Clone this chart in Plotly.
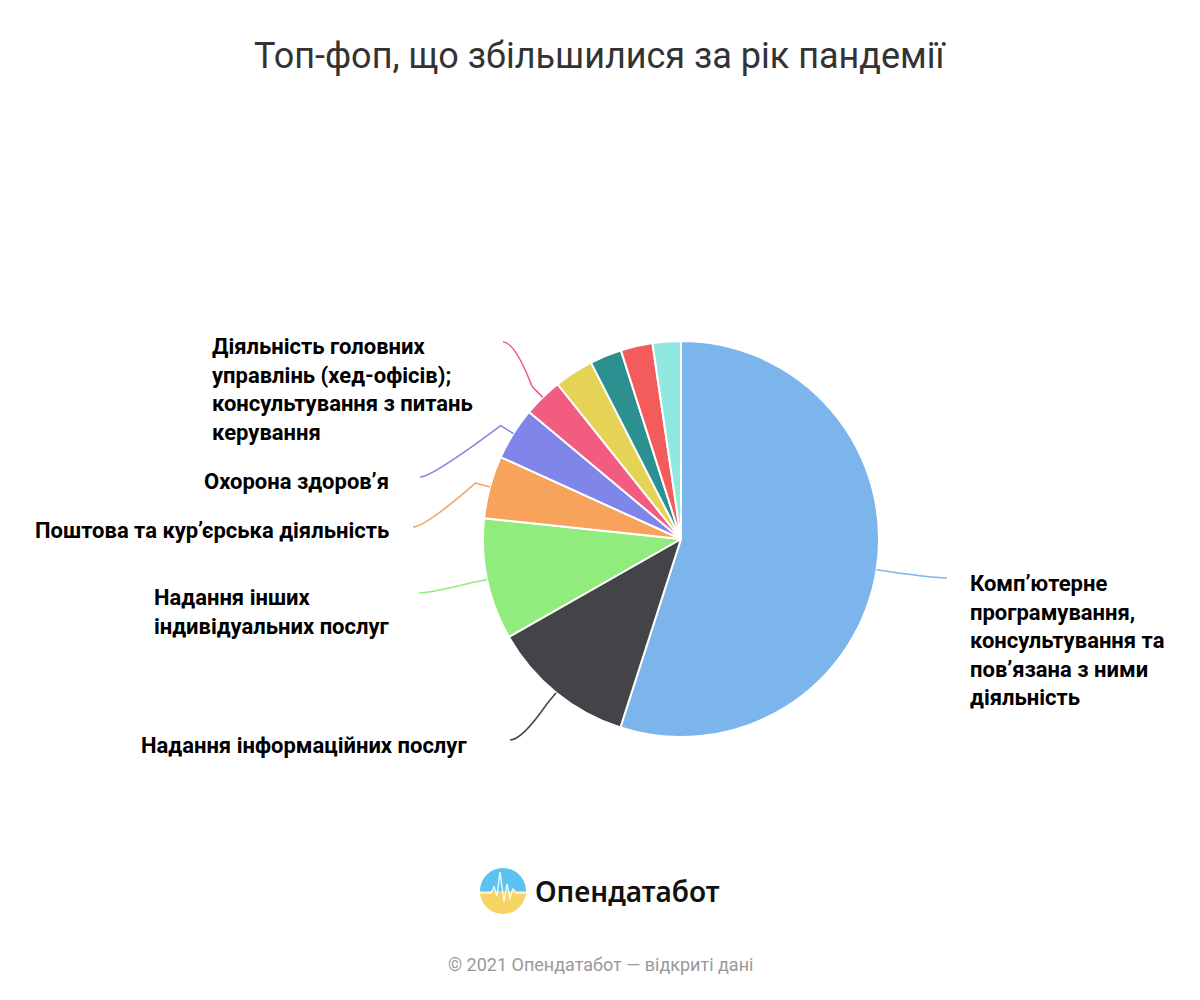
import numpy as np
import plotly.graph_objects as go

# ---------------- data ----------------
categories = [
    "Комп’ютерне програмування, консультування та пов’язана з ними діяльність",
    "Надання інформаційних послуг",
    "Надання інших індивідуальних послуг",
    "Поштова та кур’єрська діяльність",
    "Охорона здоров’я",
    "Діяльність головних управлінь (хед-офісів); консультування з питань керування",
    "Інша діяльність 7",
    "Інша діяльність 8",
    "Інша діяльність 9",
    "Інша діяльність 10",
]
values = [54.9, 11.8, 9.9, 5.1, 4.3, 3.2, 3.2, 2.6, 2.6, 2.3]
colors = ["#7cb5ec", "#434348", "#90ed7d", "#f7a35c", "#8085e9",
          "#f15c80", "#e4d354", "#2b908f", "#f45b5b", "#91e8e1"]
label_texts = [
    "Комп’ютерне<br>програмування,<br>консультування та<br>пов’язана з ними<br>діяльність",
    "Надання інформаційних послуг",
    "Надання інших<br>індивідуальних послуг",
    "Поштова та кур’єрська діяльність",
    "Охорона здоров’я",
    "Діяльність головних<br>управлінь (хед-офісів);<br>консультування з питань<br>керування",
]

# ---------------- layout constants (pixels) ----------------
W, H = 1200, 1000
CX, CY, R = 681, 539, 198
# label placement: (text x, text y, xanchor, connector end x, connector end y)
label_pos = [
    (968, 640, "left", 947, 578),
    (469, 745, "right", 510, 740),
    (152, 612, "left", 419, 593),
    (391, 530, "right", 413, 527),
    (391, 481, "right", 420, 477),
    (210, 389, "left", 503, 342),
]


def px(x):
    return x / W


def py(y):
    return 1 - y / H


fig = go.Figure()
fig.add_trace(go.Pie(
    labels=categories, values=values, sort=False, direction="clockwise",
    rotation=0, textinfo="none", hoverinfo="label+percent",
    marker=dict(colors=colors, line=dict(color="white", width=2)),
    domain=dict(x=[px(CX - R), px(CX + R)], y=[py(CY + R), py(CY - R)]),
    showlegend=False,
))

shapes = []
annotations = []

# connectors and labels computed from slice mid-angles
total = sum(values)
cum = np.cumsum([0] + values)
for i, txt in enumerate(label_texts):
    mid = (cum[i] + values[i] / 2) / total * 2 * np.pi
    sx, sy = np.sin(mid), -np.cos(mid)
    p0 = (CX + R * sx, CY + R * sy)
    p1 = (CX + (R + 15) * sx, CY + (R + 15) * sy)
    tx, ty, xa, ex, ey = label_pos[i]
    d = 1 if ex < CX else -1
    p3 = (ex + d * 12, ey)
    path = (f"M{px(p0[0])},{py(p0[1])} L{px(p1[0])},{py(p1[1])} "
            f"Q{px(p3[0])},{py(p3[1])} {px(ex)},{py(ey)}")
    shapes.append(dict(type="path", path=path, xref="paper", yref="paper",
                       line=dict(color=colors[i], width=1.5)))
    annotations.append(dict(
        text=txt, x=px(tx), y=py(ty), xref="paper", yref="paper",
        xanchor=xa, yanchor="middle", align="left", showarrow=False,
        font=dict(family="Roboto", size=22, color="#000000", weight="bold"),
    ))

# title
annotations.append(dict(
    text="Топ-фоп, що збільшилися за рік пандемії", x=0.5, y=py(56),
    xref="paper", yref="paper", xanchor="center", yanchor="middle",
    showarrow=False, font=dict(family="Roboto", size=36, color="#333333"),
))

# logo
LX, LY, LR = 503, 891, 23
th = np.linspace(0, np.pi, 40)
top = [(LX - LR * np.cos(t), LY - LR * np.sin(t)) for t in th]
bot = [(LX + LR * np.cos(t), LY + LR * np.sin(t)) for t in th]


def poly(pts):
    s = "M" + " L".join(f"{px(x)},{py(y)}" for x, y in pts) + " Z"
    return s


shapes.append(dict(type="path", path=poly(bot), xref="paper", yref="paper",
                   fillcolor="#f6d365", line=dict(width=0)))
shapes.append(dict(type="path", path=poly(top), xref="paper", yref="paper",
                   fillcolor="#5cc2f2", line=dict(width=0)))
pulse = [(LX - LR, 893), (LX - 12, 893), (LX - 9, 887), (LX - 6, 896),
         (LX - 3, 872), (LX + 1, 902), (LX + 4, 884), (LX + 7, 898),
         (LX + 10, 889), (LX + 13, 893), (LX + LR, 893)]
shapes.append(dict(type="path",
                   path="M" + " L".join(f"{px(x)},{py(y)}" for x, y in pulse),
                   xref="paper", yref="paper",
                   line=dict(color="rgba(255,255,255,0.85)", width=1.5)))
annotations.append(dict(
    text="Опендатабот", x=px(533), y=py(891), xref="paper", yref="paper",
    xanchor="left", yanchor="middle", showarrow=False,
    font=dict(family="Noto Sans", size=28, color="#111111", weight=600),
))

# footer
annotations.append(dict(
    text="© 2021 Опендатабот — відкриті дані", x=0.5, y=py(964),
    xref="paper", yref="paper", xanchor="center", yanchor="middle",
    showarrow=False, font=dict(family="Roboto", size=18, color="#999999"),
))

fig.update_layout(
    width=W, height=H, margin=dict(l=0, r=0, t=0, b=0),
    paper_bgcolor="white", plot_bgcolor="white",
    shapes=shapes, annotations=annotations,
)

fig.write_html("out.html", config={"displayModeBar": False},
               post_script="document.body.style.margin='0';")
